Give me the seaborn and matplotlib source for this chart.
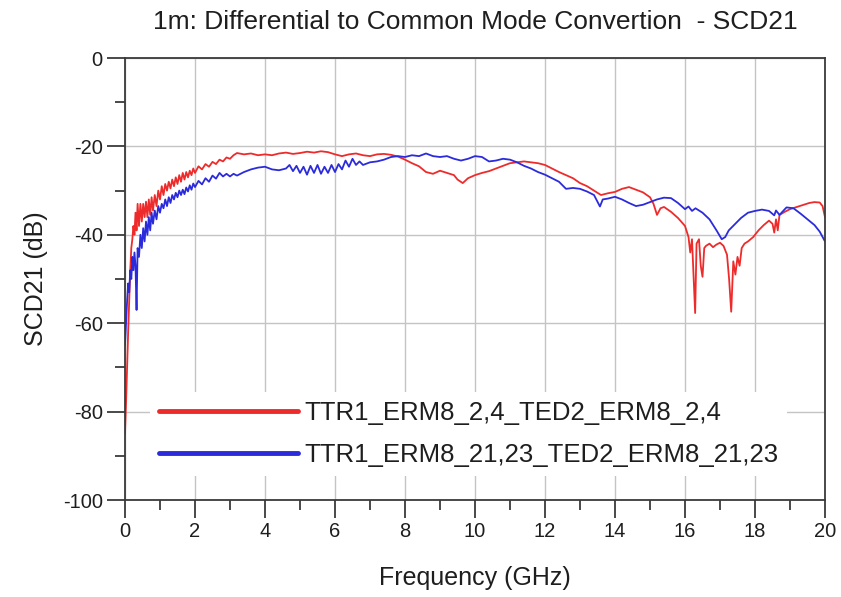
import matplotlib
matplotlib.use("Agg")
import matplotlib.pyplot as plt
from matplotlib.ticker import MultipleLocator
import pandas as pd
import seaborn as sns

# Measured SCD21 sweep, series 1 (TTR1_ERM8_2,4 -> TED2_ERM8_2,4)
red_freq = [0.00, 0.03, 0.06, 0.09, 0.12, 0.15, 0.18, 0.21, 0.24, 0.27, 0.30, 0.33, 0.36,
            0.40, 0.44, 0.48, 0.52, 0.56, 0.60, 0.64, 0.68, 0.72, 0.76, 0.80, 0.85, 0.90,
            0.95, 1.00, 1.05, 1.10, 1.15, 1.20, 1.25, 1.30, 1.35, 1.40, 1.45, 1.50, 1.55,
            1.60, 1.65, 1.70, 1.75, 1.80, 1.85, 1.90, 1.95, 2.00, 2.10, 2.20, 2.30, 2.40,
            2.50, 2.60, 2.70, 2.80, 2.90, 3.00, 3.10, 3.20, 3.40, 3.60, 3.80, 4.00, 4.20,
            4.40, 4.60, 4.80, 5.00, 5.20, 5.40, 5.60, 5.80, 6.00, 6.20, 6.40, 6.60, 6.80,
            7.00, 7.20, 7.40, 7.60, 7.80, 8.00, 8.20, 8.40, 8.60, 8.80, 9.00, 9.20, 9.40,
            9.50, 9.65, 9.80, 10.00, 10.20, 10.40, 10.60, 10.80, 11.00, 11.20, 11.40, 11.60,
            11.80, 12.00, 12.20, 12.40, 12.60, 12.80, 13.00, 13.20, 13.40, 13.60, 13.80,
            14.00, 14.20, 14.40, 14.60, 14.80, 15.00, 15.10, 15.20, 15.30, 15.40, 15.60,
            15.80, 16.00, 16.10, 16.15, 16.20, 16.25, 16.29, 16.33, 16.40, 16.45, 16.50,
            16.55, 16.60, 16.70, 16.80, 16.90, 17.00, 17.10, 17.20, 17.26, 17.32, 17.38,
            17.44, 17.50, 17.56, 17.62, 17.70, 17.80, 17.95, 18.10, 18.25, 18.40, 18.50,
            18.55, 18.60, 18.65, 18.70, 18.85, 19.00, 19.20, 19.40, 19.55, 19.70, 19.85,
            19.93, 20.00]
red_db = [-85, -78, -70, -62, -55, -48, -43, -41, -38, -40, -35, -39, -33,
          -38, -33, -37, -33, -36, -32.5, -36, -32, -35.5, -31.5, -34.5, -31, -33.5,
          -30, -32, -29, -31, -28.5, -30, -28, -29.5, -27.5, -29, -27, -28.5, -26.5,
          -28, -26, -27.5, -25.8, -27, -25.5, -26.5, -25, -26, -24.5, -25.2, -24, -24.6,
          -23.5, -24, -23, -23.4, -22.5, -22.8, -22, -21.5, -21.8, -21.6, -22, -21.8, -22,
          -21.6, -21.4, -21.7, -21.5, -21.2, -21.4, -21.1, -21.3, -21.8, -22.2, -21.8, -21.6, -22,
          -22.2, -21.8, -21.7, -21.9, -22.3, -23, -23.8, -24.5, -25.8, -26.2, -25.5, -26, -26.5,
          -27.5, -28.3, -27.2, -26.5, -26, -25.6, -25, -24.4, -23.8, -23.6, -23.4, -23.6,
          -23.8, -24.2, -25, -25.8, -26.5, -27.2, -28.3, -29, -30, -31, -30.6,
          -30.3, -29.6, -29.2, -29.8, -30.4, -31.5, -33, -35.5, -34, -33.7, -34.8,
          -36.2, -38, -40.5, -44, -41, -50, -57.7, -42, -41, -47, -49.5,
          -43, -42.5, -42, -42.8, -42.2, -41.8, -42.5, -44.5, -50, -57.4, -46,
          -49, -45, -47, -43, -42, -41.5, -40.5, -39, -37.8, -36.8, -37.5,
          -39.5, -36.5, -39, -35.5, -34.8, -34.2, -33.7, -33.2, -32.8, -32.6, -32.7,
          -33.5, -36]

# Measured SCD21 sweep, series 2 (TTR1_ERM8_21,23 -> TED2_ERM8_21,23)
blue_freq = [0.00, 0.03, 0.06, 0.09, 0.12, 0.15, 0.18, 0.21, 0.24, 0.27, 0.30, 0.33, 0.36,
             0.40, 0.44, 0.48, 0.52, 0.56, 0.60, 0.64, 0.68, 0.72, 0.76, 0.80, 0.85, 0.90,
             0.95, 1.00, 1.05, 1.10, 1.15, 1.20, 1.25, 1.30, 1.35, 1.40, 1.45, 1.50, 1.55,
             1.60, 1.65, 1.70, 1.75, 1.80, 1.85, 1.90, 1.95, 2.00, 2.10, 2.20, 2.30, 2.40,
             2.50, 2.60, 2.70, 2.80, 2.90, 3.00, 3.10, 3.20, 3.40, 3.60, 3.80, 4.00, 4.20,
             4.40, 4.60, 4.70, 4.80, 4.90, 5.00, 5.10, 5.20, 5.30, 5.40, 5.50, 5.60, 5.70,
             5.80, 5.90, 6.00, 6.10, 6.20, 6.30, 6.40, 6.50, 6.60, 6.70, 6.80, 7.00, 7.20,
             7.40, 7.60, 7.80, 8.00, 8.20, 8.40, 8.60, 8.80, 9.00, 9.20, 9.40, 9.60, 9.80,
             10.00, 10.20, 10.40, 10.60, 10.80, 11.00, 11.20, 11.40, 11.60, 11.80, 12.00,
             12.20, 12.40, 12.60, 12.80, 13.00, 13.20, 13.40, 13.50, 13.57, 13.65, 13.80,
             14.00, 14.20, 14.40, 14.60, 14.80, 15.00, 15.20, 15.40, 15.60, 15.80, 16.00,
             16.10, 16.20, 16.30, 16.50, 16.70, 16.90, 17.05, 17.15, 17.25, 17.40, 17.60,
             17.80, 18.00, 18.20, 18.40, 18.55, 18.60, 18.70, 18.90, 19.10, 19.30, 19.50,
             19.70, 19.85, 20.00]
blue_db = [-65, -60, -55, -51, -53, -48, -50, -45, -48, -44, -47, -57, -43,
           -45, -40, -43, -38.5, -41.5, -37, -40, -36, -39, -35, -37.5, -34.5, -36.5,
           -33.5, -35, -33, -34, -32, -33.5, -31.5, -32.8, -31, -32, -30.5, -31.5, -30,
           -31, -29.8, -30.8, -29.3, -30.2, -28.8, -29.8, -28.4, -29.2, -27.8, -28.6, -27.2, -28,
           -26.6, -27.3, -26, -26.8, -26.2, -26.8, -26.2, -26.6, -25.8, -25.2, -24.8, -24.6, -25.2,
           -25.4, -25, -24.2, -25.6, -24.4, -26, -24.6, -26.4, -24.4, -26, -24.2, -26.2, -24.6,
           -26, -24.2, -25.8, -24, -25.2, -23.2, -24.6, -22.8, -24.2, -23.4, -24.2, -23.6, -23.4,
           -23, -22.4, -22.2, -22.4, -22, -22.2, -21.6, -22.2, -22.4, -22.2, -22.8, -23.2, -22.8,
           -22.2, -22.4, -23.4, -23.2, -22.8, -23, -23.6, -24.4, -25, -25.8, -26.4,
           -27.2, -28, -29.6, -29.4, -29.6, -30.2, -31, -32.5, -33.6, -32, -31.8,
           -31.4, -32, -32.8, -33.5, -33.2, -32.6, -32, -31.6, -31.7, -32.8, -34.2,
           -33.6, -34.6, -34, -35, -36.5, -39, -41, -40.5, -39, -37.8, -36.2,
           -35, -34.6, -34.3, -34.6, -35.6, -34.5, -35.5, -33.8, -34, -35.2, -36.5,
           -37.8, -39.3, -41.5]

series_names = ["TTR1_ERM8_2,4_TED2_ERM8_2,4", "TTR1_ERM8_21,23_TED2_ERM8_21,23"]
series_colors = ["#ee2b2b", "#2b2bdc"]

x_ticks = [0, 2, 4, 6, 8, 10, 12, 14, 16, 18, 20]
y_ticks = [-100, -80, -60, -40, -20, 0]

df = pd.concat([
    pd.DataFrame({"freq": red_freq, "db": red_db, "series": series_names[0]}),
    pd.DataFrame({"freq": blue_freq, "db": blue_db, "series": series_names[1]}),
], ignore_index=True)

sns.set_theme(style="white")
plt.rcParams["font.family"] = ["Liberation Sans", "DejaVu Sans"]
plt.rcParams["axes.unicode_minus"] = False
text_color = "#1e1e1e"
spine_color = "#3a3a3a"

fig = plt.figure(figsize=(8.41, 5.97), dpi=100)
ax = fig.add_axes([125 / 841, 1 - 500 / 597, 700 / 841, 442 / 597])

sns.lineplot(data=df, x="freq", y="db", hue="series", hue_order=series_names,
             palette=dict(zip(series_names, series_colors)), estimator=None,
             sort=False, linewidth=1.3, ax=ax)

ax.set_xlim(0, 20)
ax.set_ylim(-100, 0)
ax.set_xticks(x_ticks)
ax.set_yticks(y_ticks)
ax.xaxis.set_minor_locator(MultipleLocator(1))
ax.yaxis.set_minor_locator(MultipleLocator(10))
ax.grid(True, which="major", color="#c4c4c4", linewidth=1.0)
ax.set_axisbelow(True)

for s in ax.spines.values():
    s.set_visible(True)
    s.set_color(spine_color)
    s.set_linewidth(1.3)

ax.tick_params(axis="both", which="major", direction="out", length=13, width=1.3,
               color=spine_color, labelsize=14.5, labelcolor=text_color, pad=3,
               bottom=True, left=True)
ax.tick_params(axis="both", which="minor", direction="out", length=7, width=1.3,
               color=spine_color, bottom=True, left=True)

ax.set_xlabel("Frequency (GHz)", fontsize=18, color=text_color)
ax.set_ylabel("SCD21 (dB)", fontsize=18, color=text_color)
ax.xaxis.set_label_coords(0.5, -0.15)
ax.yaxis.set_label_coords(-0.11, 0.5)
ax.set_title("1m: Differential to Common Mode Convertion  - SCD21", fontsize=19,
             color=text_color, pad=21)

leg = ax.legend(loc="upper left", bbox_to_anchor=(0.036, 0.245), borderaxespad=0,
                fontsize=18.5, frameon=True, facecolor="white", edgecolor="none",
                framealpha=1.0, fancybox=False, handlelength=5.4, handletextpad=0.25,
                labelspacing=0.7, borderpad=0.35)
for line in leg.get_lines():
    line.set_linewidth(3.5)
for t in leg.get_texts():
    t.set_color(text_color)

fig.savefig("out.png", dpi=100)
